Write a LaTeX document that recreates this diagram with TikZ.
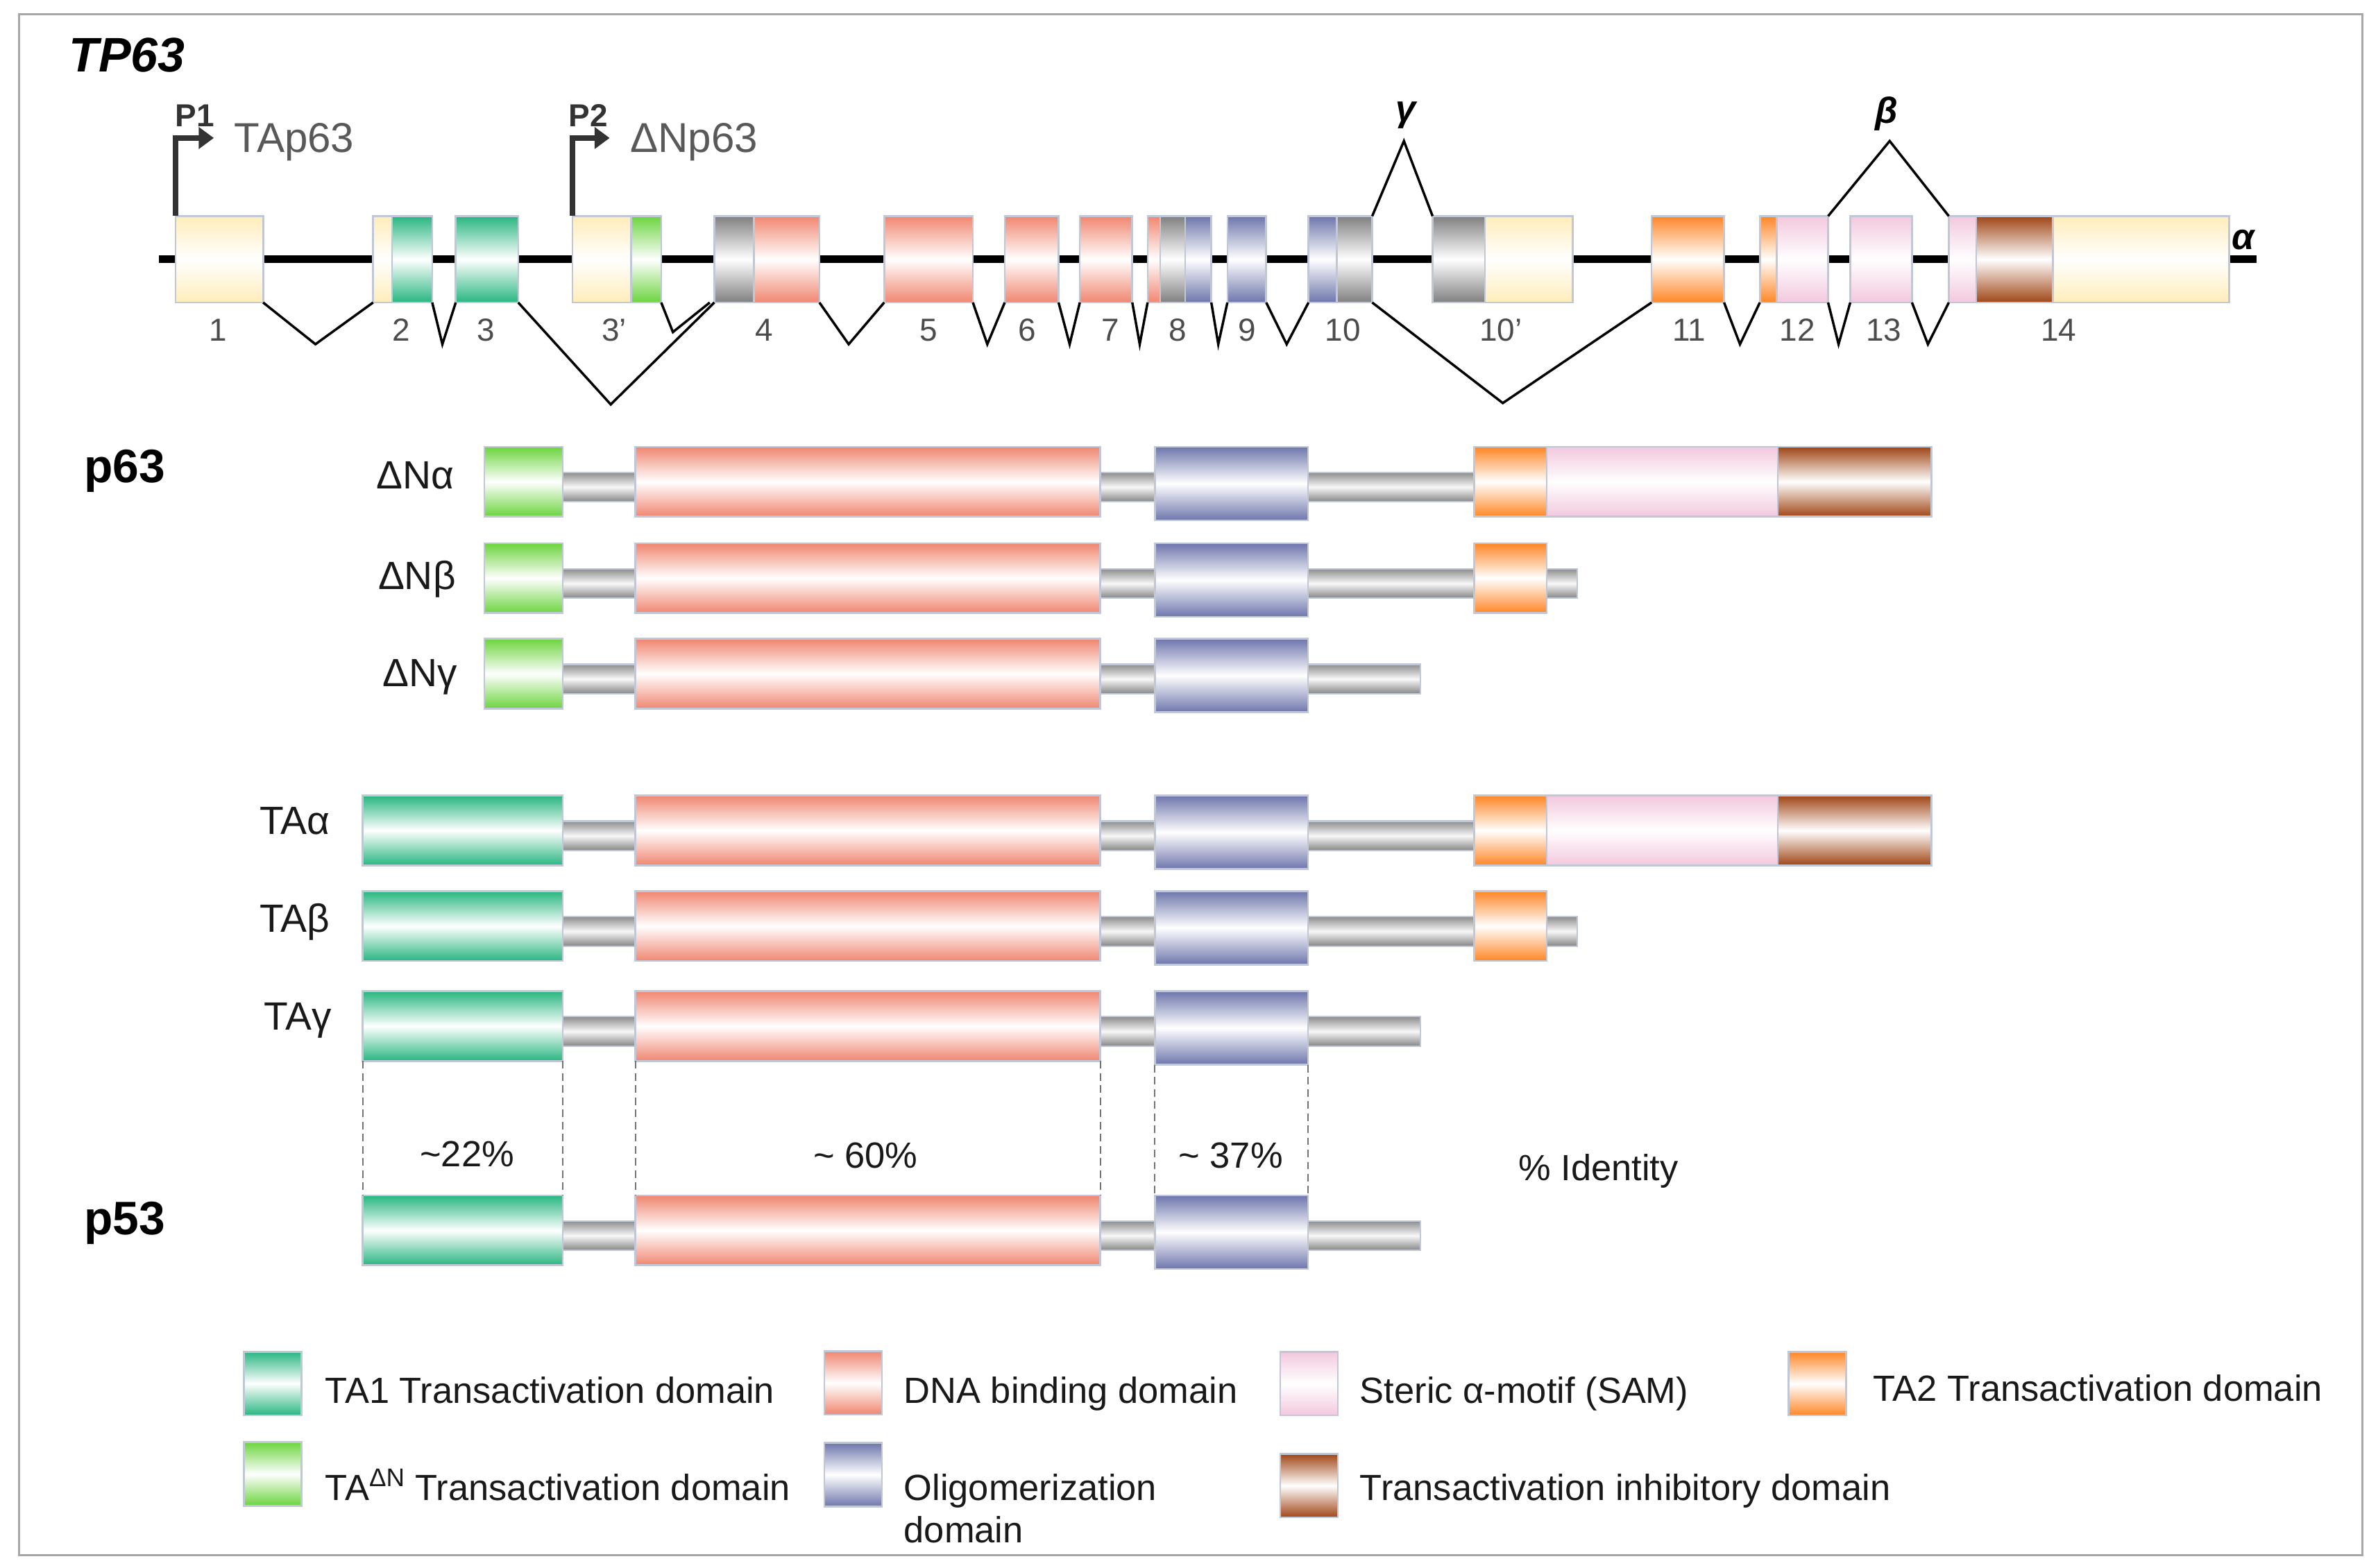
\documentclass[tikz,border=0pt]{standalone}
\usepackage{fontspec}
\setmainfont{Liberation Sans}
\usetikzlibrary{arrows.meta}
\definecolor{utrC}{RGB}{255,236,186}
\definecolor{taoneC}{RGB}{40,182,128}
\definecolor{tadnC}{RGB}{108,212,62}
\definecolor{dbdC}{RGB}{240,134,112}
\definecolor{odC}{RGB}{110,118,172}
\definecolor{samC}{RGB}{242,200,222}
\definecolor{tatwoC}{RGB}{255,134,38}
\definecolor{tidC}{RGB}{160,70,22}
\definecolor{grayC}{RGB}{128,128,128}
\definecolor{edgeC}{RGB}{192,200,216}
\newcommand\fsz[1]{\fontsize{#1}{#1}\selectfont}
\newcommand\dmn[5]{\node[prot,#5,minimum width={(#3-#2)*1pt},anchor=west] (#1) at (#2,#4) {};}

\begin{document}
\begin{tikzpicture}[x=1pt, y=-1pt,
  dom/.style={top color=#1, bottom color=#1, middle color=white},
  exon/.style={draw=edgeC, line width=1.2pt, inner sep=0pt, outer sep=0pt, minimum height=57pt},
  prot/.style={draw=edgeC, line width=1.2pt, inner sep=0pt, outer sep=0pt, minimum height=46pt},
  od/.style={minimum height=48.5pt, yshift=-1.2pt},
  lnk/.style={draw=edgeC, line width=1pt, inner sep=0pt, outer sep=0pt, minimum height=19.5pt,
    top color=black!45, bottom color=black!48, middle color=black!3},
  sw/.style={draw=edgeC, line width=1.2pt, inner sep=0pt, minimum width=38pt, minimum height=42pt},
  gene/.style={line width=5pt, black},
  splice/.style={line width=1.6pt, black},
  prom/.style={line width=3.6pt, draw=black!80, -{Triangle[length=10pt, width=14pt]}},
  idn/.style={draw=black!55, line width=0.9pt, dash pattern=on 5pt off 3pt},
  num/.style={anchor=base, text=black!70, font=\fsz{21}},
  lbl/.style={anchor=base, text=black!90, font=\fsz{24}},
  iso/.style={anchor=base east, text=black!90, font=\fsz{26}},
  legtext/.style={anchor=base west, text=black!90, font=\fsz{24}}]

\useasboundingbox (0,0) rectangle (1568,1034);
\draw[draw=black!35, line width=1.3pt] (12.4,9.3) rectangle (1557.5,1025.4);

\node[anchor=base west, font=\bfseries\itshape\fsz{32}] (tpname) at (42,47.4) {TP63};

\coordinate (gl) at (104.7,171);
\coordinate (gr) at (1488,171);
\draw[gene] (gl) -- (gr);

\foreach \n/\a/\b/\c in {e1/115.8/173.5/utrC, e2a/246/258.5/utrC, e2b/258.5/285/taoneC,
    e3/300.5/341.7/taoneC, e3pa/377.5/416/utrC, e3pb/416/436/tadnC, e4a/471/497/grayC,
    e4b/497/540.3/dbdC, e5/583/641.5/dbdC, e6/662.5/698/dbdC, e7/712/746.6/dbdC,
    e8a/756.7/765/dbdC, e8b/765/781.4/grayC, e8c/781.4/798.7/odC, e9/809.3/834.9/odC,
    e10a/862.8/881.5/odC, e10b/881.5/904.8/grayC, e10pa/944.6/979.2/grayC,
    e10pb/979.2/1037/utrC, e11/1089/1136.8/tatwoC, e12a/1160.4/1171.6/tatwoC,
    e12b/1171.6/1205.4/samC, e13/1220/1260.7/samC, e14a/1285/1303/samC,
    e14b/1303/1353.6/tidC, e14c/1353.6/1469.8/utrC}
  \node[exon, dom=\c, minimum width={(\b-\a)*1pt}, anchor=west] (\n) at (\a,171) {};

\coordinate (p1tip) at (141,91);
\coordinate (p2tip) at (402,91);
\draw[prom] (e1.north west) |- (p1tip);
\draw[prom] (e3pa.north west) |- (p2tip);
\node[anchor=base, font=\bfseries\fsz{21}, text=black!80] (p1) at (128.5,83.5) {P1};
\node[anchor=base west, font=\fsz{27.5}, text=black!65] (tap) at (151,100.5) {TAp63};
\node[anchor=base, font=\bfseries\fsz{21}, text=black!80] (p2) at (388,83.5) {P2};
\node[anchor=base west, font=\fsz{27.5}, text=black!65] (dnp) at (412,100.5) {ΔNp63};

\foreach \p/\q/\x/\y in {e1/e2a/208/227, e2b/e3/291.7/227, e3/e4a/402.7/266.7,
    e4b/e5/559.6/227, e5/e6/651/227, e6/e7/705.3/227, e7/e8a/751.5/227,
    e8c/e9/803.3/227, e9/e10a/848.4/227, e10b/e11/990.9/265.8,
    e11/e12a/1147.3/227, e12b/e13/1212.3/227, e13/e14a/1271.2/227}
{
  \coordinate (v\p) at (\x,\y);
  \draw[splice] (\p.south east) -- (v\p) -- (\q.south west);
}
\coordinate (ve3pb) at (443.7,219);
\draw[splice] (e3pb.south east) -- (ve3pb) -- ([xshift=-3pt]e4a.south west);

\coordinate (gam) at (925.7,93);
\coordinate (bet) at (1246,93);
\draw[splice] (e10b.north east) -- (gam) -- (e10pa.north west);
\draw[splice] (e12b.north east) -- (bet) -- (e14a.north west);
\node[font=\bfseries\itshape\fsz{24}] (gaml) at (927,76) {γ};
\node[font=\bfseries\itshape\fsz{24}] (betl) at (1244,75) {β};
\node[anchor=base, font=\bfseries\itshape\fsz{24}] (alpl) at (1479,164.6) {α};

\foreach \t/\x in {1/143.6, 2/264.5, 3/320.5, 3’/405, 4/504, 5/612.5, 6/677.3, 7/732.2,
    8/776.7, 9/822.5, 10/885.5, 10’/989.7, 11/1113.6, 12/1185.2, 13/1242.1, 14/1357.5}
  \node[num] (x\x) at (\x,225) {\t};

\node[anchor=base west, font=\bfseries\fsz{31}] (p63) at (52,318) {p63};
\node[anchor=base west, font=\bfseries\fsz{31}] (p53) at (52,814) {p53};

\foreach \r/\y/\s/\c/\e in {dna/317.7/319.3/tadnC/972, dnb/381.3/319.3/tadnC/1040,
    dng/444.3/319.3/tadnC/936.4, taa/547.7/239.2/taoneC/972, tab/610.7/239.2/taoneC/1040,
    tag/676.7/239.2/taoneC/936.4, pf/811.4/239.2/taoneC/936.4}
{
  \node[lnk, minimum width={(\e-360)*1pt}, anchor=west] (\r-lk) at (360,\y+3.5) {};
  \dmn{\r-ta}{\s}{371}{\y}{dom=\c}
  \dmn{\r-dbd}{419}{725.5}{\y}{dom=dbdC}
  \dmn{\r-od}{761.5}{862.5}{\y}{dom=odC,od}
}
\foreach \r/\y in {dna/317.7, taa/547.7}
{
  \dmn{\r-tb}{972.1}{1019.9}{\y}{dom=tatwoC}
  \dmn{\r-sam}{1019.9}{1172.2}{\y}{dom=samC}
  \dmn{\r-tid}{1172.2}{1273.6}{\y}{dom=tidC}
}
\foreach \r/\y in {dnb/381.3, tab/610.7}
{
  \dmn{\r-tb}{972.1}{1019.9}{\y}{dom=tatwoC}
}

\node[iso] (l-dna) at (303,322.5) {ΔNα};
\node[iso] (l-dnb) at (304,388.5) {ΔNβ};
\node[iso] (l-dng) at (305,452.9) {ΔNγ};
\node[iso] (l-taa) at (221,550.3) {TAα};
\node[iso] (l-tab) at (221,614.8) {TAβ};
\node[iso] (l-tag) at (222,679.4) {TAγ};

\foreach \a in {ta, dbd, od}
{
  \draw[idn] (tag-\a.south west) -- (pf-\a.north west);
  \draw[idn] (tag-\a.south east) -- (pf-\a.north east);
}
\node[lbl] (pc-ta) at (308,769.3) {\textasciitilde22\%};
\node[lbl] (pc-dbd) at (570.6,770.4) {\textasciitilde\ 60\%};
\node[lbl] (pc-od) at (811.5,770.4) {\textasciitilde\ 37\%};
\node[lbl] (pc-id) at (1054,778.6) {\% Identity};

\node[sw, dom=taoneC] (k-ta1) at (179.7,912.4) {};
\node[sw, dom=tadnC] (k-tadn) at (179.7,972) {};
\node[sw, dom=dbdC] (k-dbd) at (562.5,912) {};
\node[sw, dom=odC] (k-od) at (562.5,972.5) {};
\node[sw, dom=samC] (k-sam) at (863.1,912.4) {};
\node[sw, dom=tidC] (k-tid) at (863.1,979.7) {};
\node[sw, dom=tatwoC] (k-ta2) at (1198.4,912.4) {};
\node[legtext] (t-ta1) at (211,925.5) {TA1 Transactivation domain};
\node[legtext] (t-tadn) at (211,989.3) {TA\textsuperscript{ΔN} Transactivation domain};
\node[legtext] (t-dbd) at (592.5,925.5) {DNA binding domain};
\node[legtext] (t-od) at (592.5,989.3) {Oligomerization};
\node[legtext] (t-od2) at (592.5,1017.5) {domain};
\node[legtext] (t-sam) at (893.2,925.5) {Steric α-motif (SAM)};
\node[legtext] (t-tid) at (893.2,989.3) {Transactivation inhibitory domain};
\node[legtext] (t-ta2) at (1231.7,924) {TA2 Transactivation domain};

\end{tikzpicture}
\end{document}
